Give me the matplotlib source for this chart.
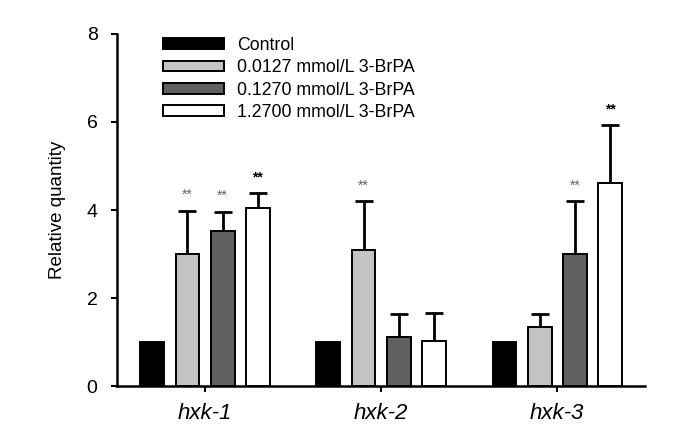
import numpy as np
import matplotlib.pyplot as plt
from matplotlib.patches import Patch

plt.rcParams["font.family"] = ["Liberation Sans", "DejaVu Sans"]

genes = ["hxk-1", "hxk-2", "hxk-3"]
series = ["Control", "0.0127 mmol/L 3-BrPA", "0.1270 mmol/L 3-BrPA", "1.2700 mmol/L 3-BrPA"]
control = [1.0, 1.0, 1.0]
low = [3.0, 3.08, 1.35]
mid = [3.53, 1.11, 3.01]
high = [4.04, 1.02, 4.62]
low_err = [0.98, 1.12, 0.29]
mid_err = [0.43, 0.53, 1.19]
high_err = [0.34, 0.64, 1.31]
control_err = [0.0, 0.0, 0.0]
# significance marks: (series index, gene index, color)
stars = [(1, 0, "#666666"), (2, 0, "#666666"), (3, 0, "black"),
         (1, 1, "#666666"), (2, 2, "#666666"), (3, 2, "black")]

colors = ["black", "#c4c4c4", "#606060", "white"]


def main():
    values = [control, low, mid, high]
    errors = [control_err, low_err, mid_err, high_err]
    x = np.arange(len(genes))
    fig = plt.figure(figsize=(6.88, 4.33), dpi=100)
    ax = fig.add_axes([0.170, 0.1085, 0.768, 0.813])
    width = 0.135
    offsets = [-0.3, -0.1, 0.1, 0.3]
    for i in range(4):
        ax.bar(x + offsets[i], values[i], width, color=colors[i], edgecolor="black",
               linewidth=1.4, zorder=3)
        if i > 0:
            ax.errorbar(x + offsets[i], values[i], yerr=[np.zeros(3), errors[i]], fmt="none",
                        ecolor="black", elinewidth=2, capsize=6.5, capthick=2, zorder=2)
    for si, gi, c in stars:
        top = values[si][gi] + errors[si][gi]
        ax.text(x[gi] + offsets[si], top + 0.2, "**", ha="center", va="bottom",
                fontsize=10, color=c, fontweight="bold" if c == "black" else "normal")

    ax.set_xlim(-0.5, 2.5)
    ax.set_ylim(0, 8)
    ax.set_yticks([0, 2, 4, 6, 8])
    ax.set_xticks(x)
    ax.set_xticklabels(genes, fontstyle="italic", fontsize=16)
    ax.tick_params(axis="y", labelsize=14, length=4, width=1.5, direction="out", pad=10)
    ax.tick_params(axis="x", length=4, width=1.5, direction="out", pad=8)
    ax.set_ylabel("Relative quantity", fontsize=13.5, labelpad=15)
    for s in ["top", "right"]:
        ax.spines[s].set_visible(False)
    for s in ["left", "bottom"]:
        ax.spines[s].set_linewidth(1.8)

    handles = [Patch(facecolor=colors[i], edgecolor="black", linewidth=1.4) for i in range(4)]
    ax.legend(handles, series, loc="upper left", bbox_to_anchor=(0.074, 1.012), frameon=False,
              fontsize=12.8, handlelength=3.4, handleheight=0.56, labelspacing=0.3,
              handletextpad=0.75, borderaxespad=0)
    fig.savefig("out.png", dpi=100)


if __name__ == "__main__":
    main()
